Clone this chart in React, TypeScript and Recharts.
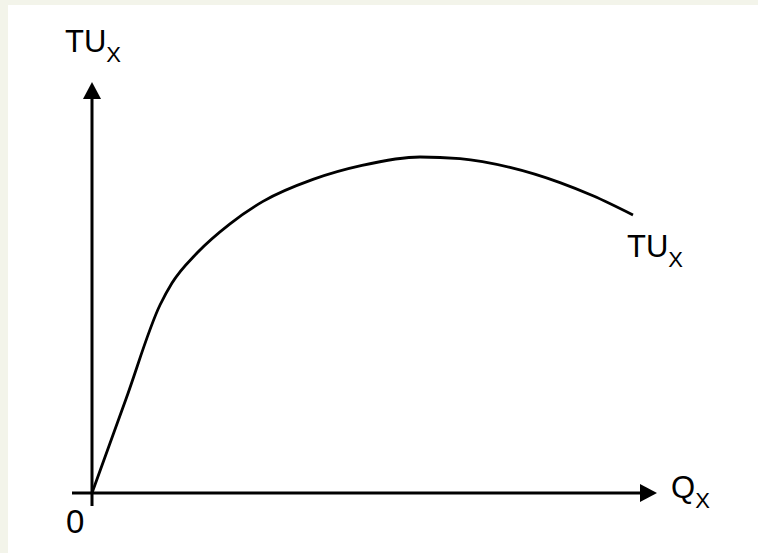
import { LineChart, Line, XAxis, YAxis, ReferenceLine, ReferenceDot } from "recharts";

// quantity consumed (Q_X) and total utility (TU_X)
const quantity = [0, 6.8, 13.6, 16, 21, 27.6, 34.2, 44.2, 54, 65.6, 73.6, 83.6, 93.6, 100.2, 108.2];
const totalUtility = [0, 23.5, 47, 52.5, 60, 67.3, 72.9, 78.4, 81.9, 84, 83.6, 81.4, 77.6, 74.3, 69.5];

const data = quantity.map((q, i) => ({ q, tu: totalUtility[i] }));

const FONT = "'Liberation Sans', Arial, sans-serif";

// axis line with an arrowhead at the second end
const ArrowAxis = (props: any) => {
  const { x1, y1, x2, y2 } = props;
  const len = Math.hypot(x2 - x1, y2 - y1) || 1;
  const ux = (x2 - x1) / len;
  const uy = (y2 - y1) / len;
  const head = 17;
  const half = 9;
  const bx = x2 - ux * head;
  const by = y2 - uy * head;
  const pts = [
    [x2, y2],
    [bx - uy * half, by + ux * half],
    [bx + uy * half, by - ux * half],
  ]
    .map((p) => p.join(","))
    .join(" ");
  return (
    <g>
      <line x1={x1} y1={y1} x2={bx} y2={by} stroke="#000" strokeWidth={3} />
      <polygon points={pts} fill="#000" />
    </g>
  );
};

const SubLabel = (main: string, sub: string, size = 31) => (props: any) => (
  <text x={props.cx} y={props.cy} fontFamily={FONT} fontSize={size} fill="#000">
    {main}
    {sub && (
      <tspan dy={10} fontSize={22}>
        {sub}
      </tspan>
    )}
  </text>
);

export default function App() {
  return (
    <div style={{ position: "absolute", left: 0, top: 0, width: 758, height: 553, background: "#f3f4ea" }}>
      <div style={{ position: "absolute", left: 8, top: 5, right: 0, bottom: 0, background: "#fff" }} />
      <div style={{ position: "absolute", left: 0, top: 0 }}>
        <LineChart width={758} height={553} data={data} margin={{ top: 82, right: 101, bottom: 47, left: 72 }}>
          <XAxis type="number" dataKey="q" domain={[-4, 113]} allowDataOverflow hide />
          <YAxis type="number" domain={[-3.25, 102.75]} allowDataOverflow hide />
          <ReferenceLine
            segment={[{ x: -4, y: 0 }, { x: 113, y: 0 }]}
            ifOverflow="visible"
            shape={ArrowAxis}
          />
          <ReferenceLine
            segment={[{ x: 0, y: -3.25 }, { x: 0, y: 102.75 }]}
            ifOverflow="visible"
            shape={ArrowAxis}
          />
          <Line
            type="monotone"
            dataKey="tu"
            stroke="#000"
            strokeWidth={2.8}
            dot={false}
            isAnimationActive={false}
          />
          <ReferenceDot x={-5.4} y={110.25} ifOverflow="visible" shape={SubLabel("TU", "X")} />
          <ReferenceDot x={107} y={59} ifOverflow="visible" shape={SubLabel("TU", "X")} />
          <ReferenceDot x={115.8} y={-1.25} ifOverflow="visible" shape={SubLabel("Q", "X")} />
          <ReferenceDot x={-5.2} y={-10} ifOverflow="visible" shape={SubLabel("0", "", 33)} />
        </LineChart>
      </div>
    </div>
  );
}
